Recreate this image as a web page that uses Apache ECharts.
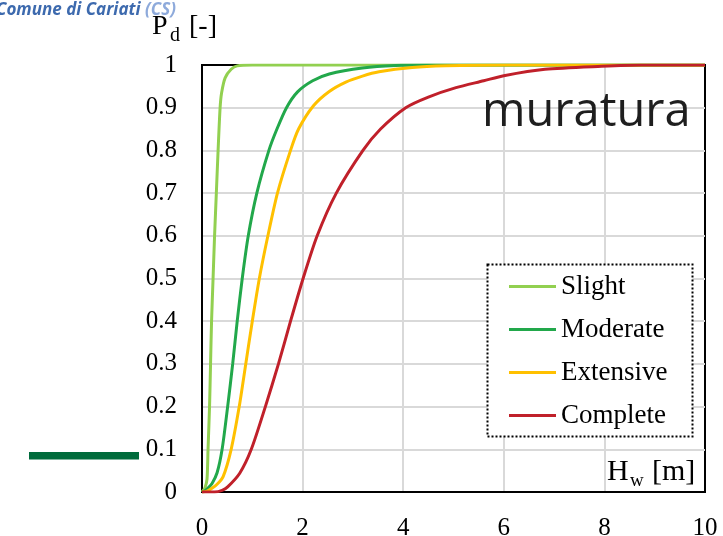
<!DOCTYPE html>
<html><head><meta charset="utf-8">
<script src="https://cdn.jsdelivr.net/npm/echarts@6/dist/echarts.min.js"></script>
<style>html,body{margin:0;padding:0;background:#fff}#c{width:723px;height:536px}</style>
</head><body><div id="c"></div>
<script>
// ---- data ----
const seriesNames = ['Slight', 'Moderate', 'Extensive', 'Complete'];

const slightHw = [0, 0.02, 0.06, 0.1, 0.12, 0.15, 0.17, 0.19, 0.22, 0.25, 0.285, 0.32, 0.36, 0.39, 0.46, 0.58, 0.7, 1.0, 10];
const slightPd = [0, 0.003, 0.01, 0.03, 0.1, 0.2, 0.3, 0.4, 0.5, 0.6, 0.7, 0.8, 0.9, 0.935, 0.97, 0.99, 0.998, 1.0, 1.0];

const moderateHw = [0, 0.05, 0.11, 0.2, 0.3, 0.4, 0.51, 0.61, 0.7, 0.8, 0.92, 1.09, 1.33, 1.49, 1.68, 1.9, 2.2, 2.53, 3.19, 3.85, 4.5, 10];
const moderatePd = [0, 0.002, 0.008, 0.02, 0.045, 0.1, 0.2, 0.3, 0.4, 0.5, 0.6, 0.7, 0.8, 0.85, 0.9, 0.937, 0.963, 0.979, 0.993, 0.999, 1.0, 1.0];

const extensiveHw = [0, 0.1, 0.19, 0.3, 0.42, 0.58, 0.74, 0.87, 1.0, 1.14, 1.31, 1.5, 1.76, 1.92, 2.22, 2.53, 2.86, 3.19, 3.52, 4.18, 4.84, 6.0, 10];
const extensivePd = [0, 0.002, 0.008, 0.018, 0.036, 0.1, 0.2, 0.3, 0.4, 0.5, 0.6, 0.7, 0.8, 0.85, 0.905, 0.938, 0.96, 0.974, 0.984, 0.994, 0.998, 1.0, 1.0];

const completeHw = [0, 0.25, 0.4, 0.51, 0.75, 0.98, 1.26, 1.52, 1.76, 2.01, 2.29, 2.67, 3.2, 3.55, 4.05, 4.5, 5.05, 5.6, 6.0, 6.82, 7.94, 8.73, 10];
const completePd = [0, 0.0, 0.004, 0.012, 0.044, 0.1, 0.2, 0.3, 0.4, 0.5, 0.6, 0.7, 0.8, 0.85, 0.9, 0.925, 0.947, 0.963, 0.975, 0.99, 0.997, 1.0, 1.0];

const xTickLabels = ['0', '2', '4', '6', '8', '10'];
const yTickLabels = ['0', '0.1', '0.2', '0.3', '0.4', '0.5', '0.6', '0.7', '0.8', '0.9', '1'];

// ---- chart ----
const colors = ['#92D050', '#22A84B', '#FFC000', '#C0202A'];
const serif = '"Liberation Serif", "Times New Roman", serif';
const zip = (xs, ys) => xs.map((x, i) => [x, ys[i]]);
const seriesData = [zip(slightHw, slightPd), zip(moderateHw, moderatePd), zip(extensiveHw, extensivePd), zip(completeHw, completePd)];

const chart = echarts.init(document.getElementById('c'), null, {renderer: 'canvas'});
chart.setOption({
  animation: false,
  backgroundColor: '#fff',
  grid: {left: 202, top: 65, right: 18, bottom: 44, show: true, borderColor: '#000', borderWidth: 2,
    backgroundColor: 'transparent', containLabel: false, outerBoundsMode: 'none'},
  xAxis: {
    type: 'value', min: 0, max: 10, interval: 2,
    axisLine: {show: true, lineStyle: {color: '#000', width: 2}},
    axisTick: {show: false},
    axisLabel: {margin: 24, fontFamily: serif, fontSize: 25, color: '#000',
      formatter: (v) => xTickLabels[Math.round(v / 2)]},
    splitLine: {show: true, showMinLine: false, showMaxLine: false, lineStyle: {color: '#d9d9d9', width: 2}}
  },
  yAxis: {
    type: 'value', min: 0, max: 1, interval: 0.1,
    axisLine: {show: true, lineStyle: {color: '#000', width: 2}},
    axisTick: {show: false},
    axisLabel: {margin: 25, fontFamily: serif, fontSize: 25, color: '#000',
      formatter: (v) => yTickLabels[Math.round(v * 10)]},
    splitLine: {show: true, showMinLine: false, showMaxLine: false, lineStyle: {color: '#d9d9d9', width: 2}}
  },
  legend: {
    orient: 'vertical', left: 509, top: 273, padding: 0, itemGap: 16,
    itemWidth: 47, itemHeight: 3, icon: 'rect', z: 5,
    data: seriesNames,
    textStyle: {fontFamily: serif, fontSize: 27, color: '#000', lineHeight: 26}
  },
  series: seriesNames.map((name, i) => ({
    name, type: 'line', data: seriesData[i], showSymbol: false, symbol: 'none',
    smooth: 0.25,
    color: colors[i], lineStyle: {color: colors[i], width: 3}
  })),
  graphic: [
    {type: 'rect', z: 3, shape: {x: 487.5, y: 264.5, width: 205, height: 172},
      style: {fill: '#fff', stroke: '#000', lineWidth: 2, lineDash: [2, 2]}},
    {type: 'text', z: 6, x: 482, y: 112.5, style: {text: 'muratura', fontFamily: '"Open Sans", sans-serif', fontSize: 47, fill: '#1e1e1e', align: 'left', verticalAlign: 'middle'}},
    {type: 'text', z: 6, x: 152, y: 26.5, style: {text: 'P', fontFamily: serif, fontSize: 28, fill: '#000', align: 'left', verticalAlign: 'middle'}},
    {type: 'text', z: 6, x: 170, y: 35.4, style: {text: 'd', fontFamily: serif, fontSize: 20, fill: '#000', align: 'left', verticalAlign: 'middle'}},
    {type: 'text', z: 6, x: 189, y: 26.5, style: {text: '[-]', fontFamily: serif, fontSize: 28, fill: '#000', align: 'left', verticalAlign: 'middle'}},
    {type: 'text', z: 6, x: 607, y: 472.5, style: {text: 'H', fontFamily: serif, fontSize: 30, fill: '#000', align: 'left', verticalAlign: 'middle'}},
    {type: 'text', z: 6, x: 630, y: 481, style: {text: 'w', fontFamily: serif, fontSize: 19, fill: '#000', align: 'left', verticalAlign: 'middle'}},
    {type: 'text', z: 6, x: 652, y: 472.5, style: {text: '[m]', fontFamily: serif, fontSize: 30, fill: '#000', align: 'left', verticalAlign: 'middle'}},
    {type: 'rect', z: 6, shape: {x: 29, y: 452, width: 110, height: 7.5}, style: {fill: '#006B3C'}},
    {type: 'text', z: 6, x: -4, y: 19, style: {text: 'Comune di Cariati', fontFamily: '"Open Sans", sans-serif', fontSize: 17, fontStyle: 'italic', fontWeight: 'bold', fill: '#3D6AAE', align: 'left', verticalAlign: 'bottom'}},
    {type: 'text', z: 6, x: 145, y: 19, style: {text: '(CS)', fontFamily: '"Open Sans", sans-serif', fontSize: 17, fontStyle: 'italic', fontWeight: 'bold', fill: '#8EAADB', align: 'left', verticalAlign: 'bottom'}}
  ]
});
</script>
</body></html>
